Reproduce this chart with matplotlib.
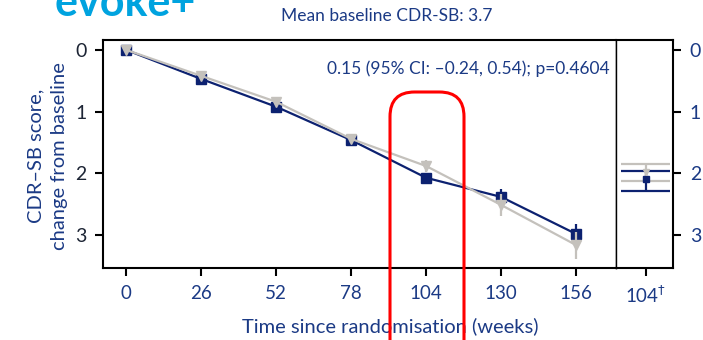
import matplotlib.pyplot as plt
from matplotlib.patches import FancyBboxPatch

plt.rcParams['font.family'] = ['Lato', 'DejaVu Sans']

# CDR-SB change from baseline by visit
weeks = [0, 26, 52, 78, 104, 130, 156]
navy_mean = [0.0, 0.47, 0.92, 1.46, 2.07, 2.38, 2.98]
navy_err = [0.0, 0.04, 0.05, 0.06, 0.08, 0.13, 0.17]
grey_mean = [0.0, 0.42, 0.84, 1.44, 1.88, 2.51, 3.16]
grey_err = [0.0, 0.04, 0.05, 0.06, 0.09, 0.18, 0.22]

# pooled week-104 estimates (mean, lower, upper)
navy_104 = (2.09, 1.96, 2.285)
grey_104 = (1.98, 1.85, 2.12)

x_ticks = [0, 26, 52, 78, 104, 130, 156]
y_ticks = [0, 1, 2, 3]

NAVY = '#0c2170'
GREY = '#c4c1bc'
TXT = '#1b3a85'
DARK = '#1d2535'

fig = plt.figure(figsize=(7.03, 3.40), dpi=100)
ax = fig.add_axes([103 / 703, 72 / 340, 513 / 703, 228 / 340])
ax2 = fig.add_axes([616 / 703, 72 / 340, 57 / 703, 228 / 340])

ax.errorbar(weeks, navy_mean, yerr=navy_err, color=NAVY, lw=1.6, marker='s',
            ms=7, elinewidth=1.6, capsize=0, zorder=3)
ax.errorbar(weeks, grey_mean, yerr=grey_err, color=GREY, lw=1.6, marker='v',
            ms=7, elinewidth=1.6, capsize=0, zorder=4)

ax.set_xlim(-8.0, 169.8)
ax.set_ylim(3.53, -0.16)
ax.set_xticks(x_ticks)
ax.set_xticklabels([str(w) for w in x_ticks], color=TXT, fontsize=13.5)
ax.set_yticks(y_ticks)
ax.set_yticklabels([str(v) for v in y_ticks], color=DARK, fontsize=14)
ax.tick_params(axis='both', direction='out', length=6, width=1.5, pad=6)
for s in ax.spines.values():
    s.set_linewidth(1.5)
    s.set_color('black')
ax.spines['right'].set_linewidth(1.0)

fig.text(327 / 703, 1 - 69 / 340, '0.15 (95% CI: \u20130.24, 0.54); p=0.4604',
         color=TXT, fontsize=12.5, va='center', ha='left')

ax.set_xlabel('Time since randomisation (weeks)', color=TXT, fontsize=14.5)
ax.xaxis.set_label_coords(0.559, -0.215)
ax.set_ylabel('CDR\u2013SB score,\nchange from baseline', color=TXT, fontsize=14.5,
              linespacing=1.5)
ax.yaxis.set_label_coords(-0.068, 0.49)

# week-104 panel
for (m, lo, hi), c, mk in [(navy_104, NAVY, 's'), (grey_104, GREY, 'v')]:
    ax2.hlines([lo, hi], -0.45, 0.45, color=c, lw=1.6)
    ax2.errorbar([0], [m], yerr=[[m - lo], [hi - m]], color=c, marker=mk, ms=5,
                 elinewidth=1.6, capsize=0)
ax2.set_xlim(-0.55, 0.5)
ax2.set_ylim(3.53, -0.16)
ax2.set_xticks([0])
ax2.set_xticklabels(['104$^{\u2020}$'], color=TXT, fontsize=13.5)
ax2.yaxis.tick_right()
ax2.set_yticks(y_ticks)
ax2.set_yticklabels([str(v) for v in y_ticks], color=TXT, fontsize=14)
ax2.tick_params(axis='both', direction='out', length=6, width=1.5, pad=6)
for s in ax2.spines.values():
    s.set_linewidth(1.5)
ax2.spines['left'].set_linewidth(1.0)

fig.text(55 / 703, 1 - 16 / 340, 'evoke+', color='#00a3df', fontsize=31,
         fontweight='bold', ha='left', va='baseline')
fig.text(387 / 703, 1 - 16 / 340, 'Mean baseline CDR-SB: 3.7', color=TXT,
         fontsize=12.5, ha='center', va='center')

# highlight box around week 104
box = FancyBboxPatch((390 / 703, -0.2), 74 / 703, (340 - 92) / 340 + 0.2,
                     boxstyle='round,pad=0,rounding_size=0.035',
                     transform=fig.transFigure, fill=False, ec='#ff0000', lw=2.2,
                     mutation_aspect=703 / 340, zorder=10)
fig.add_artist(box)

fig.savefig('out.png', dpi=100)
